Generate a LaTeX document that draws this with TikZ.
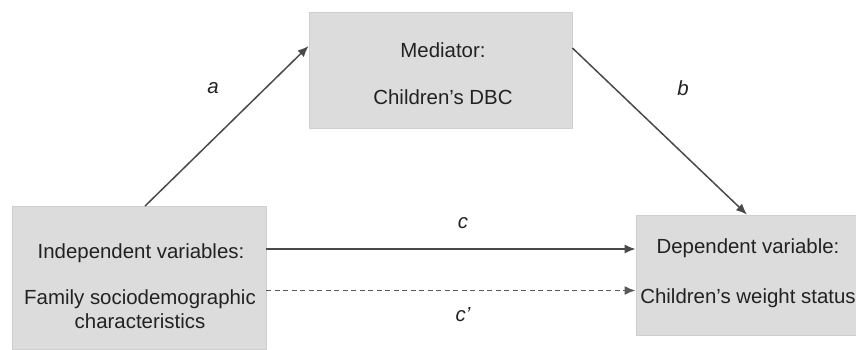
\documentclass[tikz,border=0pt]{standalone}
\usepackage{fontspec}
\setmainfont{Liberation Sans}
\usetikzlibrary{arrows.meta}
\definecolor{boxfill}{HTML}{DCDCDD}
\definecolor{boxline}{HTML}{CFCFD0}
\definecolor{linecol}{HTML}{4A4A4A}
\definecolor{dashcol}{HTML}{5A5A5A}
\definecolor{txtcol}{HTML}{222222}
\tikzset{
  varbox/.style={draw=boxline, line width=0.8bp, fill=boxfill, rectangle, inner sep=0pt},
  boxtext/.style={align=center, text=txtcol, font=\fontsize{20.5}{24}\selectfont, inner sep=0pt},
  arr/.style={draw=linecol, line width=1.5bp, -{Latex[length=11bp,width=9bp]}},
  darr/.style={arr, draw=dashcol, line width=1.8bp, dash pattern=on 5bp off 3.5bp},
  pathlabel/.style={text=txtcol, font=\fontsize{20.5}{24}\selectfont\itshape, inner sep=0pt}
}
\begin{document}
\begin{tikzpicture}[x=1bp,y=-1bp]
\useasboundingbox (0,0) rectangle (856,349);
\fill[white] (0,0) rectangle (856,349);
% boxes
\node[varbox, minimum width=254bp, minimum height=143bp] (iv) at (139,278) {};
\node[varbox, minimum width=220bp, minimum height=120bp] (dv) at (746,275) {};
\node[varbox, minimum width=263bp, minimum height=116bp] (med) at (440.5,70) {};
% texts
\node[boxtext] (ivt1) at (141,253) {Independent variables:};
\node[boxtext] (ivt2) at (140,309) {Family sociodemographic\\characteristics};
\node[boxtext] (dvt1) at (748,248) {Dependent variable:};
\node[boxtext] (dvt2) at (748,298) {Children’s weight status};
\node[boxtext] (medt1) at (443,50) {Mediator:};
\node[boxtext] (medt2) at (443,97) {Children’s DBC};
% arrows
\draw[arr] ([xshift=6bp]iv.north) -- ([yshift=24bp]med.west);
\draw[arr] ([yshift=22bp]med.east) -- ([xshift=1bp]dv.north);
\draw[arr] ([yshift=29bp]iv.east) -- ([yshift=29bp]iv.east -| dv.west);
\draw[darr] ([yshift=-12.5bp]iv.east) -- ([yshift=-12.5bp]iv.east -| dv.west);
% labels
\node[pathlabel] (la) at (213,88) {a};
\node[pathlabel] (lb) at (683,88) {b};
\node[pathlabel] (lc) at (463,223) {c};
\node[pathlabel] (lcp) at (463,315) {c’};
\end{tikzpicture}
\end{document}
